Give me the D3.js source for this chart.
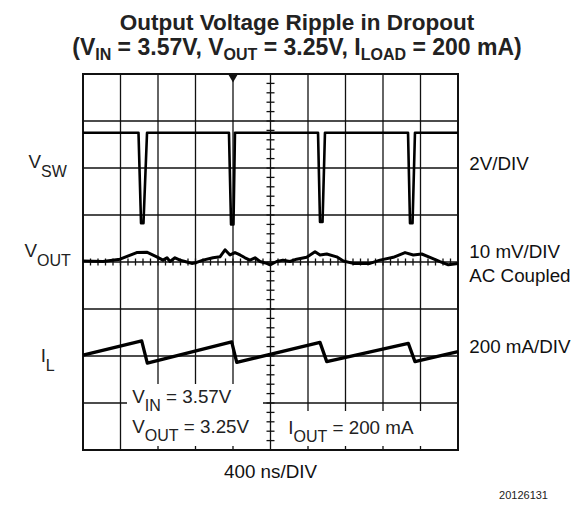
<!DOCTYPE html>
<html>
<head>
<meta charset="utf-8">
<script src="https://cdn.jsdelivr.net/npm/d3@7"></script>
<style>
  body { margin: 0; background: #fff; }
  svg { display: block; font-family: "Liberation Sans", Arial, Helvetica, sans-serif; }
</style>
</head>
<body>
<svg width="580" height="506"></svg>
<script>
const width = 580, height = 506

// Switch node voltage (V), 2V/DIV
const vswTimeNs = [0, 592, 619, 645, 683, 1557, 1579, 1605, 1621, 2507, 2528, 2555, 2581, 3467, 3488, 3515, 3541, 4000];
const vswVolts  = [3.7, 3.7, -0.15, -0.15, 3.7, 3.7, -0.2, -0.2, 3.7, 3.7, -0.1, -0.1, 3.7, 3.7, -0.15, -0.15, 3.7, 3.7];

// Output ripple (mV), 10 mV/DIV AC coupled
const voutTimeNs = [0, 213, 395, 573, 680, 787, 853, 896, 928, 981, 1035, 1088, 1160, 1213, 1280, 1387, 1461, 1515,
    1568, 1621, 1675, 1728, 1781, 1835, 1888, 1959, 1995, 2066, 2133, 2208, 2279, 2386, 2475, 2528, 2600, 2706,
    2777, 2883, 3061, 3168, 3310, 3435, 3523, 3613, 3701, 3808, 3897, 4000];
const voutMillivolts = [0.2, 0.1, 0.6, 2.0, 2.1, 1.1, 0.4, 0.9, 0.1, 0.9, 0.4, 0.1, -0.3, -0.1, 0.4, 0.9, 1.1, 2.6,
    1.5, 2.0, 1.5, 0.9, 0.4, 0.9, 0.1, -0.3, -0.6, 0.1, 0.4, 0.1, 0.6, 1.0, 2.2, 1.5, 1.7, 1.1,
    0.2, -0.3, -0.3, 0.4, 1.0, 2.0, 1.5, 1.7, 1.0, 0.1, -0.6, -0.3];

// Inductor current (mA), 200 mA/DIV
const ilTimeNs   = [0, 626, 686, 1586, 1640, 2528, 2600, 3470, 3541, 4000];
const ilMilliamps = [204, 264, 170, 260, 173, 258, 176, 254, 176, 219];

const channelNames = [['V', 'SW'], ['V', 'OUT'], ['I', 'L']];
const scaleNames = [['2V/DIV'], ['10 mV/DIV', 'AC Coupled'], ['200 mA/DIV']];

const svg = d3.select('svg');

// Graticule: 10 x 8 divisions
const x = d3.scaleLinear().domain([0, 4000]).range([83, 458]);
const yDiv = d3.scaleLinear().domain([-4, 4]).range([450, 74]);

// channel scales: ground position (div) and units per div
const ySw = d3.scaleLinear().domain([0, 2]).range([yDiv(0.9), yDiv(1.9)]);
const yOut = d3.scaleLinear().domain([0, 10]).range([yDiv(0), yDiv(1)]);
const yIl = d3.scaleLinear().domain([0, 200]).range([yDiv(-3), yDiv(-2)]);

const grid = svg.append('g').attr('stroke', '#111').attr('stroke-width', 1.3);

grid.selectAll('.vline')
    .data(d3.range(400, 4000, 400))
    .enter().append('line')
    .attr('x1', d => x(d)).attr('x2', d => x(d))
    .attr('y1', yDiv(4)).attr('y2', yDiv(-4));

grid.selectAll('.hline')
    .data(d3.range(-3, 4))
    .enter().append('line')
    .attr('x1', x(0)).attr('x2', x(4000))
    .attr('y1', d => yDiv(d)).attr('y2', d => yDiv(d));

// minor ticks on the center axes
grid.selectAll('.xtick')
    .data(d3.range(80, 4000, 80))
    .enter().append('line')
    .attr('x1', d => x(d)).attr('x2', d => x(d))
    .attr('y1', yDiv(0) - 3.5).attr('y2', yDiv(0) + 3.5);

grid.selectAll('.ytick')
    .data(d3.range(-3.8, 4, 0.2))
    .enter().append('line')
    .attr('x1', x(2000) - 4).attr('x2', x(2000) + 4)
    .attr('y1', d => yDiv(d)).attr('y2', d => yDiv(d));

// white boxes behind the annotations
svg.append('rect').attr('x', 127).attr('y', 384).attr('width', 136).attr('height', 62).attr('fill', '#fff');
svg.append('rect').attr('x', 276).attr('y', 411).attr('width', 181).attr('height', 35).attr('fill', '#fff');

svg.append('rect')
    .attr('x', x(0)).attr('y', yDiv(4))
    .attr('width', x(4000) - x(0)).attr('height', yDiv(-4) - yDiv(4))
    .attr('fill', 'none').attr('stroke', '#111').attr('stroke-width', 2);

// trigger marker
svg.append('path')
    .attr('d', d3.symbol(d3.symbolTriangle, 40)())
    .attr('transform', `translate(${x(1600)},${yDiv(4) + 3}) rotate(180)`)
    .attr('fill', '#111');

// traces
function trace(times, values, yScale, w) {
    const pts = times.map((t, i) => [x(t), yScale(values[i])]);
    svg.append('path')
        .attr('d', d3.line()(pts))
        .attr('fill', 'none')
        .attr('stroke', '#000')
        .attr('stroke-width', w)
        .attr('stroke-linejoin', 'round');
}
trace(vswTimeNs, vswVolts, ySw, 2.6);
trace(voutTimeNs, voutMillivolts, yOut, 3);
trace(ilTimeNs, ilMilliamps, yIl, 3.3);

// labels with subscripts
function subLabel(xp, yp, main, sub, rest, size, subSize, dy, anchor, weight) {
    const t = svg.append('text')
        .attr('x', xp).attr('y', yp)
        .attr('text-anchor', anchor || 'start')
        .style('font-size', size + 'px')
        .style('font-weight', weight || 'normal')
        .attr('fill', '#222');
    t.append('tspan').text(main);
    t.append('tspan').attr('dy', dy).style('font-size', subSize + 'px').text(sub);
    if (rest) t.append('tspan').attr('dy', -dy).text(rest);
    return t;
}

svg.append('text')
    .attr('x', 297).attr('y', 29.5)
    .attr('text-anchor', 'middle')
    .style('font-size', '22.5px').style('font-weight', 'bold')
    .attr('fill', '#222')
    .text('Output Voltage Ripple in Dropout');

const sub = svg.append('text')
    .attr('x', 297).attr('y', 55)
    .attr('text-anchor', 'middle')
    .style('font-size', '23px').style('font-weight', 'bold')
    .attr('fill', '#222');
const subParts = [['(V', 0], ['IN', 1], [' = 3.57V, V', 0], ['OUT', 1], [' = 3.25V, I', 0], ['LOAD', 1], [' = 200 mA)', 0]];
let prev = 0;
subParts.forEach(([s, isSub]) => {
    const off = isSub ? 5 : 0;
    sub.append('tspan')
        .attr('dy', off - prev)
        .style('font-size', isSub ? '16px' : '23px')
        .text(s);
    prev = off;
});

const labelY = [168.3, 256.7, 361.7];
channelNames.forEach((n, i) => {
    subLabel(47.7, labelY[i], n[0], n[1], null, 18.8, 16, 9, 'middle');
});

const scaleY = [170, 258.3, 353.3];
scaleNames.forEach((lines, i) => {
    lines.forEach((s, j) => {
        svg.append('text')
            .attr('x', 469.3).attr('y', scaleY[i] + j * 23.4)
            .style('font-size', '18.8px')
            .attr('fill', '#111')
            .text(s);
    });
});

subLabel(132.3, 402.7, 'V', 'IN', ' = 3.57V', 18.8, 16, 8);
subLabel(132.3, 432.7, 'V', 'OUT', ' = 3.25V', 18.8, 16, 8);
subLabel(288.3, 434, 'I', 'OUT', ' = 200 mA', 18.8, 16, 8);

svg.append('text')
    .attr('x', x(2000)).attr('y', 478)
    .attr('text-anchor', 'middle')
    .style('font-size', '18.8px')
    .attr('fill', '#111')
    .text('400 ns/DIV');

svg.append('text')
    .attr('x', 548).attr('y', 499)
    .attr('text-anchor', 'end')
    .style('font-size', '11px')
    .attr('fill', '#222')
    .text('20126131');
</script>
</body>
</html>
